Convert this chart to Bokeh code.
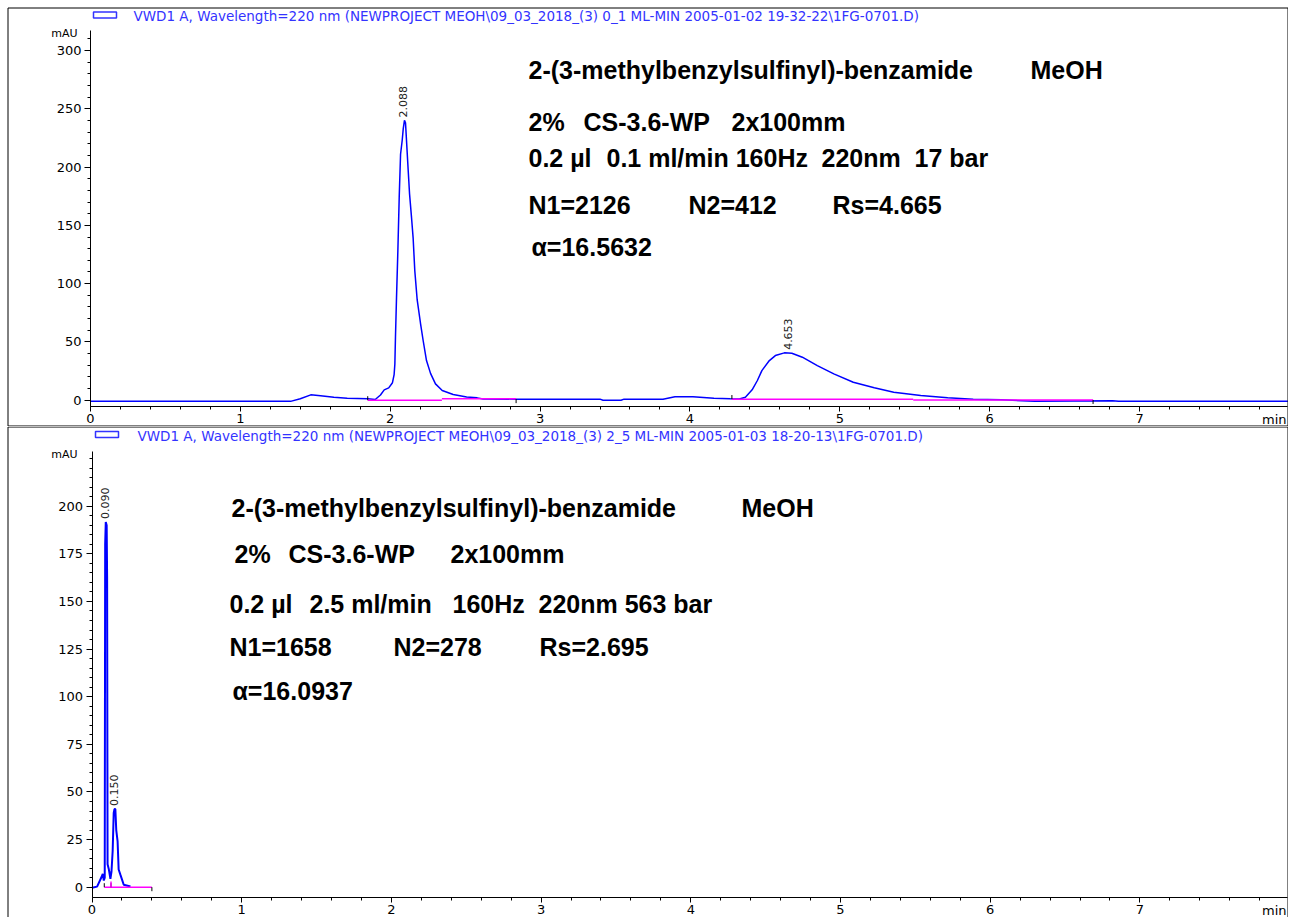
import numpy as np
from bokeh.plotting import figure
from bokeh.layouts import column
from bokeh.models import Range1d, FixedTicker, Label, BoxAnnotation
from bokeh.core.properties import value
from bokeh.embed import file_html
from bokeh.resources import INLINE

# ---------------- DATA ----------------
# Run 1 : 0.1 ml/min
time1 = [0.00, 1.30, 1.335, 1.40, 1.47, 1.535, 1.624, 1.713, 1.85, 1.90, 1.935, 1.96, 1.99, 2.015,
         2.026, 2.031, 2.035, 2.042, 2.051, 2.060, 2.069, 2.080, 2.087, 2.095, 2.102, 2.109, 2.120,
         2.129, 2.142, 2.153, 2.164, 2.180, 2.202, 2.220, 2.242, 2.269, 2.302, 2.347, 2.42, 2.51,
         2.58, 2.62, 2.84, 3.40, 3.42, 3.54, 3.56, 3.82, 3.90, 4.02, 4.16, 4.27, 4.33, 4.37, 4.415,
         4.45, 4.48, 4.53, 4.57, 4.63, 4.68, 4.75, 4.85, 4.96, 5.09, 5.23, 5.36, 5.54, 5.72, 5.89,
         6.08, 6.30, 6.82, 6.86, 7.99]
mau1 = [-1.0, -1.0, -1.0, 1.2, 4.6, 3.8, 2.6, 1.7, 1.2, 0.6, 4.5, 8.9, 10.6, 15.0,
        22.0, 31.0, 54.0, 88.0, 128.0, 174.0, 211.0, 223.0, 233.0, 240.0, 238.0, 222.0, 197.0,
        177.0, 157.0, 139.0, 111.0, 86.0, 66.0, 51.0, 34.0, 23.0, 14.0, 8.3, 4.9, 2.8,
        2.0, 1.0, 0.9, 0.9, 0.0, 0.0, 0.9, 0.9, 3.0, 3.0, 1.7, 1.2, 1.0, 2.6, 8.9,
        16.9, 25.4, 34.0, 38.3, 40.6, 40.3, 36.9, 29.7, 22.6, 15.4, 10.6, 6.9, 4.0, 2.0, 0.9,
        0.3, -0.8, -0.5, -0.9, -0.9]
peak_t1 = [2.088, 4.653]
peak_h1 = [240.0, 40.6]
peak_lab1 = ["2.088", "4.653"]
base1_t0 = [1.85, 2.345, 4.28, 5.49]
base1_t1 = [2.345, 2.84, 5.49, 6.69]
base1_v = [0.0, 1.2, 0.8, 0.2]
event1_t = [1.85, 2.84, 4.28, 6.69]
event1_v = [0.0, 0.9, 1.0, 0.2]
event1_dir = [1, -1, 1, -1]

# Run 2 : 2.5 ml/min
time2 = [0.000, 0.034, 0.063, 0.072, 0.079, 0.085, 0.088, 0.092, 0.098, 0.101, 0.104, 0.112,
         0.123, 0.130, 0.138, 0.145, 0.150, 0.156, 0.162, 0.171, 0.178, 0.189, 0.199, 0.212, 0.257]
mau2 = [-0.3, 0.3, 5.2, 7.0, 3.5, 5.0, 180.0, 191.7, 190.0, 163.0, 12.0, 9.6,
        4.4, 8.0, 19.0, 39.0, 41.0, 41.0, 30.0, 24.0, 9.3, 6.7, 4.4, 1.3, 0.4]
peak_t2 = [0.090, 0.150]
peak_h2 = [191.7, 41.0]
peak_lab2 = ["0.090", "0.150"]
base2_t0 = [0.082, 0.127]
base2_t1 = [0.127, 0.40]
base2_v = [0.0, 0.0]
drop2_t = [0.127]
drop2_v = [3.0]
event2_t = [0.082, 0.127, 0.40]
event2_v = [0.0, 0.0, 0.0]
event2_dir = [1, 1, -1]

# axis ticks
x_major = [0, 1, 2, 3, 4, 5, 6, 7]
x_minor = [i / 5 for i in range(0, 40)]
y1_major = [0, 50, 100, 150, 200, 250, 300]
y1_minor = list(range(0, 320, 10))
y2_major = [0, 25, 50, 75, 100, 125, 150, 175, 200]
y2_minor = list(range(0, 230, 5))

header1 = r"VWD1 A, Wavelength=220 nm (NEWPROJECT MEOH\09_03_2018_(3) 0_1 ML-MIN  2005-01-02 19-32-22\1FG-0701.D)"
header2 = r"VWD1 A, Wavelength=220 nm (NEWPROJECT MEOH\09_03_2018_(3) 2_5 ML-MIN  2005-01-03 18-20-13\1FG-0701.D)"

notes1 = ["2-(3-methylbenzylsulfinyl)-benzamide", "MeOH", "2%", "CS-3.6-WP", "2x100mm",
          "0.2 µl", "0.1 ml/min 160Hz", "220nm", "17 bar",
          "N1=2126", "N2=412", "Rs=4.665", "α=16.5632"]
notes2 = ["2-(3-methylbenzylsulfinyl)-benzamide", "MeOH", "2%", "CS-3.6-WP", "2x100mm",
          "0.2 µl", "2.5 ml/min", "160Hz", "220nm 563 bar",
          "N1=1658", "N2=278", "Rs=2.695", "α=16.0937"]

# ---------------- LAYOUT (pixel geometry of the page) ----------------
W = 1288
BLUE = "#0000ff"
MAG = "#ff00ff"
HDR = "#3333ff"
TICKFONT = "DejaVu Sans"
NOTEFONT = "Liberation Sans"

notes1_px = [(528, 69), (1030, 69), (528, 121), (583, 121), (731, 121),
             (528, 157), (606, 157), (821, 157), (914, 157),
             (528, 204), (688, 204), (832, 204), (531, 246)]
notes2_px = [(231, 507), (741, 507), (234, 553), (288, 553), (450, 553),
             (229, 603), (309, 603), (452, 603), (538, 603),
             (229, 646), (393, 646), (539, 646), (232, 690)]


def make_panel(page_top, height, x0, sx, y0, sy, axis_top_px, axis_bot_px, ymaj, ymin,
               times, vals, pk_t, pk_h, pk_lab, b_t0, b_t1, b_v, ev_t, ev_v, ev_dir,
               header, hdr_box, hdr_xy, notes, notes_px, border_px, lw):
    # page pixel -> data
    tx = lambda px: (px - x0) / sx
    ty = lambda py: (y0 - py) / sy
    page_bot = page_top + height
    p = figure(width=W, height=height, output_backend="svg", toolbar_location=None,
               title=None,
               x_range=Range1d(tx(0), tx(W)), y_range=Range1d(ty(page_bot), ty(page_top)),
               min_border_left=0, min_border_right=0, min_border_top=0, min_border_bottom=0)
    p.grid.visible = False
    p.outline_line_color = None
    p.background_fill_color = "white"
    p.border_fill_color = "white"

    xa = p.xaxis[0]
    ya = p.yaxis[0]
    xa.fixed_location = ty(axis_bot_px)
    ya.fixed_location = 0.0
    xa.bounds = (0.0, tx(1287))
    ya.bounds = (ty(axis_bot_px), ty(axis_top_px))
    xa.ticker = FixedTicker(ticks=x_major, minor_ticks=x_minor)
    ya.ticker = FixedTicker(ticks=ymaj, minor_ticks=ymin)
    for ax in (xa, ya):
        ax.axis_line_color = "black"
        ax.axis_line_width = 1
        ax.major_tick_line_color = "black"
        ax.minor_tick_line_color = "black"
        ax.major_tick_in = 0
        ax.minor_tick_in = 0
        ax.minor_tick_out = 3
        ax.major_label_text_font = TICKFONT
        ax.major_label_text_font_size = "13px"
        ax.major_label_text_color = "black"
    xa.major_tick_out = 5
    ya.major_tick_out = 6
    xa.major_label_standoff = 2
    ya.major_label_standoff = 3

    # signal
    p.line(times, vals, line_color=BLUE, line_width=lw)
    # baselines (magenta)
    p.segment(x0=b_t0, y0=b_v, x1=b_t1, y1=b_v, line_color=MAG, line_width=1.5)
    # integration event markers
    ev_len = 4.0 / sy
    p.segment(x0=ev_t, y0=ev_v, x1=ev_t,
              y1=[v + d * ev_len for v, d in zip(ev_v, ev_dir)],
              line_color="black", line_width=1)
    # peak labels
    p.text(x=pk_t, y=pk_h, text=pk_lab, angle=np.pi / 2, y_offset=-3,
           text_align="left", text_baseline="middle",
           text_font=value(TICKFONT), text_font_size="11px", text_color="#222222")

    # annotation texts
    p.text(x=[tx(a) for a, b in notes_px], y=[ty(b) for a, b in notes_px], text=notes,
           text_align="left", text_baseline="middle",
           text_font=value(NOTEFONT), text_font_style="bold", text_font_size="25px",
           text_color="black")

    # header (legend-like)
    l, r, t, b = hdr_box
    p.add_layout(BoxAnnotation(left=tx(l), right=tx(r), top=ty(t), bottom=ty(b),
                               fill_color="white", fill_alpha=1, line_color=HDR,
                               line_alpha=1, line_width=1.5))
    p.add_layout(Label(x=tx(hdr_xy[0]), y=ty(hdr_xy[1]), text=header,
                       text_font=TICKFONT, text_font_size="13.5px", text_color=HDR,
                       text_baseline="middle", text_align="left"))
    # unit labels
    p.add_layout(Label(x=tx(64), y=ty(axis_top_px + 3), text="mAU", text_font=TICKFONT,
                       text_font_size="11px", text_color="black",
                       text_align="center", text_baseline="middle"))
    p.add_layout(Label(x=tx(1286), y=ty(axis_bot_px + 13), text="min", text_font=TICKFONT,
                       text_font_size="13px", text_color="black",
                       text_align="right", text_baseline="middle"))

    # panel border
    bl, br, bt, bb = border_px
    p.add_layout(BoxAnnotation(left=tx(bl), right=tx(br), top=ty(bt), bottom=ty(bb),
                               fill_color=None, fill_alpha=0, line_color="black",
                               line_alpha=1, line_width=1))
    return p


p1 = make_panel(0, 426, 90, 149.86, 399.7, 1.1657, 30, 406, y1_major, y1_minor,
                time1, mau1, peak_t1, peak_h1, peak_lab1, base1_t0, base1_t1, base1_v,
                event1_t, event1_v, event1_dir,
                header1, (93, 116, 11.5, 17.5), (133, 15), notes1, notes1_px,
                (7.5, 1287.5, 7.5, 425.5), 1.5)
p2 = make_panel(426, 491, 91.5, 149.7, 886.7, 1.905, 451, 897, y2_major, y2_minor,
                time2, mau2, peak_t2, peak_h2, peak_lab2, base2_t0, base2_t1, base2_v,
                event2_t, event2_v, event2_dir,
                header2, (95, 118, 431, 437), (137, 435), notes2, notes2_px,
                (7.5, 1287.5, 426.5, 940), 2.0)
# peak-separation drop line in run 2
p2.segment(x0=drop2_t, y0=[0.0] * len(drop2_t), x1=drop2_t, y1=drop2_v, line_color=MAG, line_width=1.5)

layout = column(p1, p2, spacing=0)
open("out.html", "w").write(file_html(layout, INLINE))
